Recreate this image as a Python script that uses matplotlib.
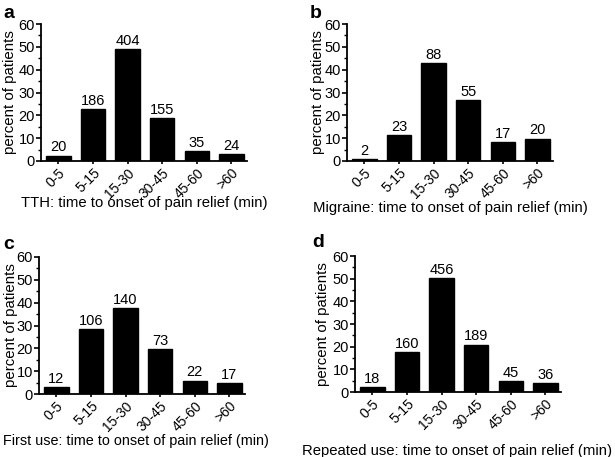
import matplotlib
matplotlib.use("Agg")
import matplotlib.pyplot as plt
from matplotlib.ticker import MultipleLocator
from matplotlib.transforms import ScaledTranslation

plt.rcParams['font.family'] = ['Liberation Sans', 'DejaVu Sans']

categories = ["0-5", "5-15", "15-30", "30-45", "45-60", ">60"]

tth_counts = [20, 186, 404, 155, 35, 24]
tth_pct = [2.4, 22.6, 49.0, 18.8, 4.2, 2.9]

mig_counts = [2, 23, 88, 55, 17, 20]
mig_pct = [1.0, 11.2, 42.9, 26.8, 8.3, 9.8]

first_counts = [12, 106, 140, 73, 22, 17]
first_pct = [3.2, 28.6, 37.8, 19.7, 5.9, 4.6]

rep_counts = [18, 160, 456, 189, 45, 36]
rep_pct = [2.0, 17.7, 50.4, 20.9, 5.0, 4.0]

panel_letters = ["a", "b", "c", "d"]
xlabels = ["TTH: time to onset of pain relief (min)",
           "Migraine: time to onset of pain relief (min)",
           "First use: time to onset of pain relief (min)",
           "Repeated use: time to onset of pain relief (min)"]
ylabel = "percent of patients"

W, H = 615, 457
fig = plt.figure(figsize=(W / 100, H / 100), dpi=100)

# axes boxes in pixels: left, right, top, bottom
boxes = [(41, 247, 24, 161), (347, 553, 24, 161),
         (39, 245, 257, 394), (355, 561, 256, 392)]
xlab_pos = [(144, 203), (450, 208), (3, 441), (457, 451)]
xlab_ha = ["center", "center", "left", "center"]
xlab_size = [10.7, 10.7, 10.4, 10.7]
ylab_x = [10, 318, 11, 323]
letter_pos = [(3, 13), (310, 13), (3, 244), (312, 243)]

data = [(tth_pct, tth_counts), (mig_pct, mig_counts),
        (first_pct, first_counts), (rep_pct, rep_counts)]

for i, (pct, cnt) in enumerate(data):
    l, r, t, b = boxes[i]
    ax = fig.add_axes([l / W, (H - b) / H, (r - l) / W, (b - t) / H])
    x = list(range(len(categories)))
    ax.bar(x, pct, width=0.71, color="black", edgecolor="black")
    for xi, p, c in zip(x, pct, cnt):
        ax.text(xi, p + 0.5, str(c), ha="center", va="bottom", fontsize=10.5)
    ax.set_ylim(0, 60)
    ax.set_xlim(-0.5, 5.45)
    ax.yaxis.set_major_locator(MultipleLocator(10))
    ax.yaxis.set_minor_locator(MultipleLocator(5))
    ax.set_xticks(x)
    ax.set_xticklabels(categories, rotation=45, ha="right", va="top",
                       rotation_mode="anchor", fontsize=10)
    offset = ScaledTranslation(4 / 100, 0, fig.dpi_scale_trans)
    for lab in ax.get_xticklabels():
        lab.set_transform(lab.get_transform() + offset)
    ax.tick_params(axis="y", labelsize=10.5, width=1.2, length=3.5, pad=1)
    ax.tick_params(axis="y", which="minor", width=1.0, length=2.2)
    ax.tick_params(axis="x", width=1.2, length=2.5, pad=1)
    for s in ["top", "right"]:
        ax.spines[s].set_visible(False)
    for s in ["left", "bottom"]:
        ax.spines[s].set_linewidth(1.3)
    xl, yl = xlab_pos[i]
    fig.text(xl / W, 1 - yl / H, xlabels[i], fontsize=xlab_size[i],
             ha=xlab_ha[i], va="center")
    ax.set_ylabel(ylabel, fontsize=10.8)
    ax.yaxis.set_label_coords((ylab_x[i] - l) / (r - l), 0.5)
    ax.yaxis.label.set_va("center")
    lx, ly = letter_pos[i]
    fig.text(lx / W, 1 - ly / H, panel_letters[i], fontsize=14, fontweight="bold",
             ha="left", va="center")

fig.savefig("out.png", dpi=100)
